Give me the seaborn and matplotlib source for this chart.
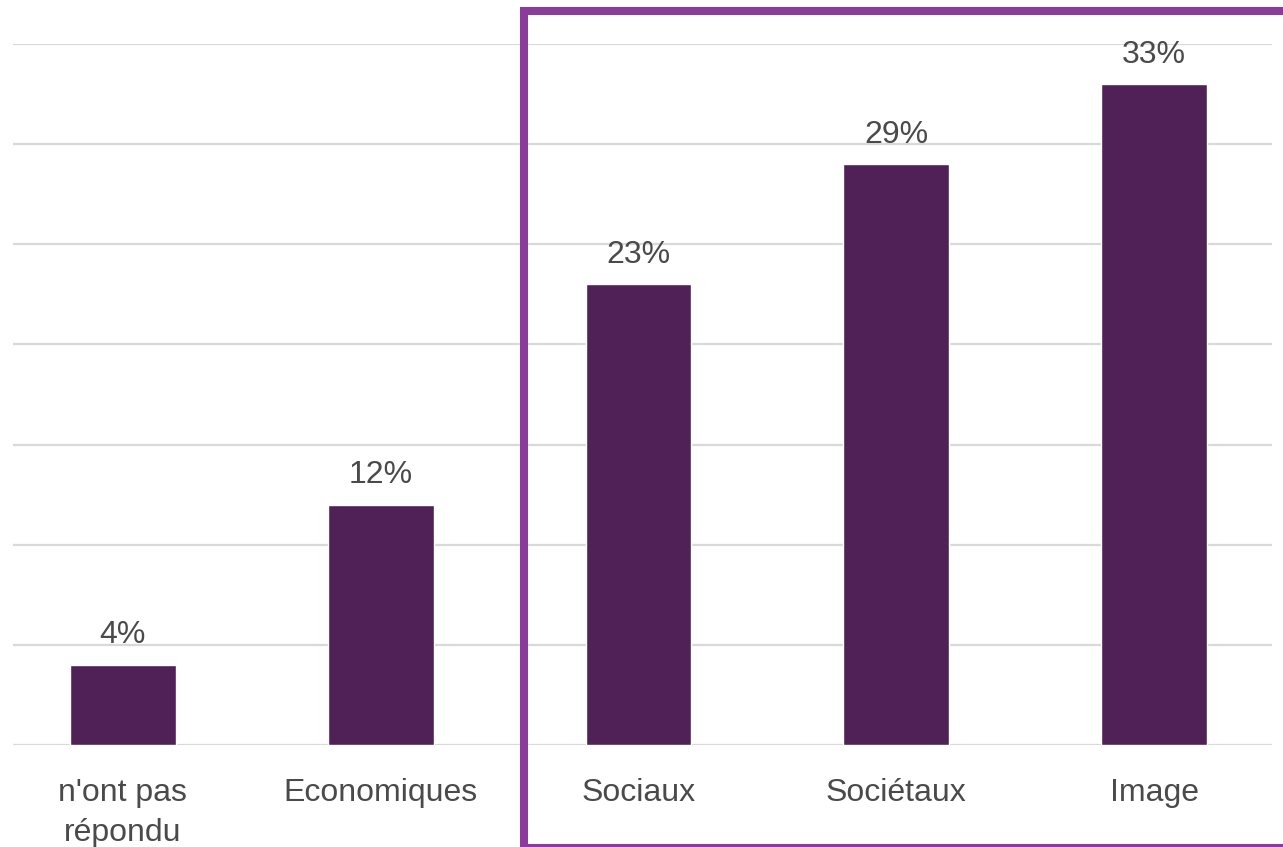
import matplotlib
matplotlib.use("Agg")
import matplotlib.pyplot as plt
import matplotlib.patches as mpatches
import seaborn as sns
import pandas as pd

# Share of answers per category (percent)
categories = ["n'ont pas\nrépondu", "Economiques", "Sociaux", "Sociétaux", "Image"]
values = [4, 12, 23, 29, 33]
value_labels = ["4%", "12%", "23%", "29%", "33%"]

BAR_COLOR = "#4F2156"
FRAME_COLOR = "#8C3A9B"
TEXT_COLOR = "#4A4A4A"
GRID_COLOR = "#D9D9D9"

sns.set_theme(style="white")
plt.rcParams["font.family"] = ["Liberation Sans", "DejaVu Sans"]

W, H = 1283, 847
fig = plt.figure(figsize=(W / 100, H / 100), dpi=100)
ax = fig.add_axes([13 / W, 1 - 745 / H, (1272 - 13) / W, (745 - 44) / H])

df = pd.DataFrame({"categorie": categories, "valeur": values})
sns.barplot(data=df, x="categorie", y="valeur", color=BAR_COLOR,
            saturation=1, width=0.41, ax=ax, zorder=3)

ax.set_xlim(-0.4264, 4.4574)
ax.set_ylim(0, 35)
ax.set_yticks(range(0, 36, 5))
ax.yaxis.grid(True, color=GRID_COLOR, linewidth=1.6, zorder=0)
ax.set_axisbelow(True)
ax.tick_params(axis="y", left=False, labelleft=False)
ax.tick_params(axis="x", bottom=False, pad=17.5, labelsize=23,
               labelcolor=TEXT_COLOR)
for lbl in ax.get_xticklabels():
    lbl.set_linespacing(1.45)
for s in ax.spines.values():
    s.set_visible(False)
ax.set_xlabel("")
ax.set_ylabel("")

# Value labels above each bar
for i, (v, t) in enumerate(zip(values, value_labels)):
    ax.annotate(t, xy=(i, v), xytext=(0, 15.5), textcoords="offset points",
                ha="center", va="baseline", fontsize=23, color=TEXT_COLOR,
                annotation_clip=False)

# Highlight frame around the last three categories
lw_px = 8
frame = mpatches.Rectangle((524 / W, (H - 848) / H), (1291 - 524) / W,
                           (848 - 11) / H, transform=fig.transFigure,
                           fill=False, edgecolor=FRAME_COLOR,
                           linewidth=lw_px * 72 / 100, clip_on=False)
fig.patches.append(frame)

fig.savefig("out.png", dpi=100, facecolor="white")
